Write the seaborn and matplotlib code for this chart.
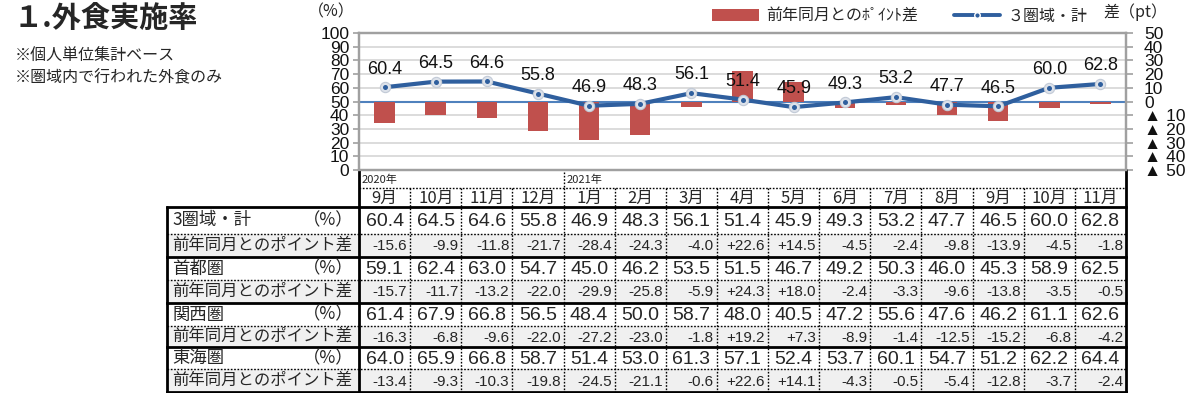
import numpy as np
import pandas as pd
import matplotlib
matplotlib.use("Agg")
import matplotlib.pyplot as plt
from matplotlib.patches import Rectangle, Patch
from matplotlib.lines import Line2D
import seaborn as sns

# ---------------- data ----------------
months = ["9月", "10月", "11月", "12月", "1月", "2月", "3月", "4月", "5月", "6月",
          "7月", "8月", "9月", "10月", "11月"]
years = ["2020年", "2021年"]
year_start = [0, 4]

total = [60.4, 64.5, 64.6, 55.8, 46.9, 48.3, 56.1, 51.4, 45.9, 49.3, 53.2, 47.7, 46.5, 60.0, 62.8]
total_diff = [-15.6, -9.9, -11.8, -21.7, -28.4, -24.3, -4.0, 22.6, 14.5, -4.5, -2.4, -9.8, -13.9, -4.5, -1.8]
shutoken = [59.1, 62.4, 63.0, 54.7, 45.0, 46.2, 53.5, 51.5, 46.7, 49.2, 50.3, 46.0, 45.3, 58.9, 62.5]
shutoken_diff = [-15.7, -11.7, -13.2, -22.0, -29.9, -25.8, -5.9, 24.3, 18.0, -2.4, -3.3, -9.6, -13.8, -3.5, -0.5]
kansai = [61.4, 67.9, 66.8, 56.5, 48.4, 50.0, 58.7, 48.0, 40.5, 47.2, 55.6, 47.6, 46.2, 61.1, 62.6]
kansai_diff = [-16.3, -6.8, -9.6, -22.0, -27.2, -23.0, -1.8, 19.2, 7.3, -8.9, -1.4, -12.5, -15.2, -6.8, -4.2]
tokai = [64.0, 65.9, 66.8, 58.7, 51.4, 53.0, 61.3, 57.1, 52.4, 53.7, 60.1, 54.7, 51.2, 62.2, 64.4]
tokai_diff = [-13.4, -9.3, -10.3, -19.8, -24.5, -21.1, -0.6, 22.6, 14.1, -4.3, -0.5, -5.4, -12.8, -3.7, -2.4]

region_names = ["3圏域・計", "首都圏", "関西圏", "東海圏"]
region_values = [total, shutoken, kansai, tokai]
region_diffs = [total_diff, shutoken_diff, kansai_diff, tokai_diff]
diff_label = "前年同月とのポイント差"

title = "１.外食実施率"
notes = ["※個人単位集計ベース", "※圏域内で行われた外食のみ"]
legend_bar = "前年同月とのﾎﾟｲﾝﾄ差"
legend_line = "３圏域・計"

left_ticks = list(range(0, 101, 10))
right_ticks = list(range(-50, 51, 10))

# ---------------- style ----------------
sns.set_theme(style="white")
plt.rcParams["font.family"] = ["Liberation Sans", "Noto Sans CJK JP", "DejaVu Sans"]

BAR_C = "#C0504D"
LINE_C = "#2F5F9E"
GRID_C = "#D9D9D9"
SPINE_C = "#A0A0A0"
ZERO_C = "#4F81BD"

W, H = 1200, 393
fig = plt.figure(figsize=(12, 3.93), dpi=100)

X0, X1 = 359, 1126
Y_TOP, Y_BOT = 33, 170
n = len(months)
cw = (X1 - X0) / n

ax = fig.add_axes([X0 / W, 1 - Y_BOT / H, (X1 - X0) / W, (Y_BOT - Y_TOP) / H])
ax2 = ax.twinx()
# bars + grid go underneath, line on top
ax.set_zorder(ax2.get_zorder() + 1)
ax.patch.set_visible(False)
ax2.patch.set_visible(True)
ax2.patch.set_facecolor("white")

df = pd.DataFrame({"pos": np.arange(n), "month": [f"{i}_{m}" for i, m in enumerate(months)],
                   "total": total, "diff": total_diff})

sns.barplot(data=df, x="month", y="diff", ax=ax2, color=BAR_C, width=0.4,
            saturation=1, linewidth=0, edgecolor="none", zorder=2)
ax2.set_ylim(-50, 50)
ax2.set_yticks(right_ticks)
ax2.set_yticklabels([f"▲ {abs(t)}" if t < 0 else f"{t}" for t in right_ticks], fontsize=12.5)
for t in right_ticks:
    ax2.axhline(t, color=GRID_C, lw=1.3, zorder=0)
ax2.axhline(0, color=ZERO_C, lw=1.5, zorder=1)

sns.lineplot(data=df, x="pos", y="total", ax=ax, color=LINE_C, lw=3, zorder=3)
sns.scatterplot(data=df, x="pos", y="total", ax=ax, s=55, color="#DDE2EA",
                edgecolor="#C2CAD6", linewidth=0.8, zorder=4)
sns.scatterplot(data=df, x="pos", y="total", ax=ax, s=13, color=LINE_C,
                edgecolor=LINE_C, linewidth=0, zorder=5)
for i, v in enumerate(total):
    ax.annotate(f"{v:.1f}", (i, v), xytext=(0, 7), textcoords="offset points",
                ha="center", va="bottom", fontsize=13, color="#111111", zorder=6)

ax.set_ylim(0, 100)
ax.set_yticks(left_ticks)
ax.set_yticklabels([str(t) for t in left_ticks], fontsize=12.5)
ax.set_xlim(-0.5, n - 0.5)
ax2.set_xlim(-0.5, n - 0.5)
for a in (ax, ax2):
    a.set_xticks([])
    a.set_xlabel("")
    a.set_ylabel("")
    a.grid(False)
    for s in a.spines.values():
        s.set_color(SPINE_C)
        s.set_linewidth(1.6)
ax.tick_params(axis="y", left=True, length=4, width=1.2, color=SPINE_C, pad=3, labelcolor="#111111")
ax2.tick_params(axis="y", right=True, length=5, width=1.2, color=SPINE_C, pad=8, labelcolor="#111111")

# ---------------- overlay (pixel coords) ----------------
tx = fig.add_axes([0, 0, 1, 1])
tx.set_xlim(0, W)
tx.set_ylim(H, 0)
tx.axis("off")
tx.patch.set_visible(False)

tx.text(14, 18, title, fontsize=21, fontweight="bold", va="center", ha="left",
        family=["Noto Sans CJK JP"])
tx.text(15, 55, notes[0], fontsize=11.5, va="center", ha="left", family=["Noto Sans CJK JP"])
tx.text(15, 78, notes[1], fontsize=11.5, va="center", ha="left", family=["Noto Sans CJK JP"])
tx.text(331, 12, "（%）", fontsize=11.5, va="center", ha="center", family=["Noto Sans CJK JP"])
tx.text(1135, 12, "差（pt）", fontsize=11.5, va="center", ha="center", family=["Noto Sans CJK JP"])

handles = [Patch(facecolor=BAR_C, edgecolor="none"),
           Line2D([0], [0], color=LINE_C, lw=2.8, marker="o", markersize=4,
                  markerfacecolor=LINE_C, markeredgecolor="white", markeredgewidth=1)]
fig.legend(handles, [legend_bar, legend_line], loc="center",
           bbox_to_anchor=(900 / W, 1 - 16 / H), ncol=2, frameon=False,
           handlelength=2.9, handleheight=0.7, columnspacing=2.2,
           handletextpad=0.5, prop={"family": ["Noto Sans CJK JP"], "size": 11.5})

# ---------------- table ----------------
TL = 167
Y_YEAR = 170
Y_MON = 188
row_y = [207, 234, 257, 280, 303, 326, 347, 369, 392]

# diff-row backgrounds
for k in range(4):
    y0, y1 = row_y[2 * k + 1], row_y[2 * k + 2]
    tx.add_patch(Rectangle((TL, y0), X1 - TL, y1 - y0, facecolor="#F0F0F0",
                           edgecolor="none", zorder=0))

dot = (0, (1.2, 1.2))
# years row
for y_lab, st in zip(years, year_start):
    tx.text(X0 + st * cw + 3, (Y_YEAR + Y_MON) / 2 + 1, y_lab, fontsize=8,
            va="center", ha="left", family=["Noto Sans CJK JP"])
    if st > 0:
        tx.plot([X0 + st * cw] * 2, [Y_YEAR + 2, Y_MON], color="black", lw=1, ls=dot)
# month row
tx.plot([X0, X1], [Y_MON, Y_MON], color="black", lw=1, ls=dot)
for i, m in enumerate(months):
    tx.text(X0 + (i + 0.5) * cw, (Y_MON + row_y[0]) / 2 + 1, m, fontsize=12,
            va="center", ha="center", family=["Noto Sans CJK JP"])
# column separators
for i in range(1, n):
    tx.plot([X0 + i * cw] * 2, [Y_MON, row_y[-1]], color="black", lw=1, ls=dot)

# rows
for k in range(4):
    ym = (row_y[2 * k] + row_y[2 * k + 1]) / 2
    yd = (row_y[2 * k + 1] + row_y[2 * k + 2]) / 2
    tx.text(TL + 5, ym, region_names[k], fontsize=12.5, va="center", ha="left",
            family=["Noto Sans CJK JP"])
    tx.text(354, ym, "（%）", fontsize=12.5, va="center", ha="right",
            family=["Noto Sans CJK JP"])
    tx.text(TL + 5, yd, diff_label, fontsize=11.8, va="center", ha="left",
            family=["Noto Sans CJK JP"])
    for i in range(n):
        tx.text(X0 + (i + 0.5) * cw, ym + 1, f"{region_values[k][i]:.1f}", fontsize=14,
                va="center", ha="center")
        d = region_diffs[k][i]
        s = f"+{d:.1f}" if d > 0 else f"{d:.1f}"
        tx.text(X0 + (i + 1) * cw - 3, yd + 1, s, fontsize=11, va="center", ha="right")
    # dotted line between value row and diff row
    tx.plot([TL, X1], [row_y[2 * k + 1]] * 2, color="black", lw=1, ls=dot)

# thick lines
for y in [row_y[0], row_y[2], row_y[4], row_y[6], row_y[8]]:
    tx.plot([TL, X1], [y, y], color="black", lw=2, solid_capstyle="projecting")
tx.plot([X0, X0], [Y_YEAR, row_y[-1]], color="black", lw=2)
tx.plot([X1, X1], [Y_YEAR, row_y[-1]], color="black", lw=2)
tx.plot([TL, TL], [row_y[0], row_y[-1]], color="black", lw=2)

fig.savefig("out.png", dpi=100)
